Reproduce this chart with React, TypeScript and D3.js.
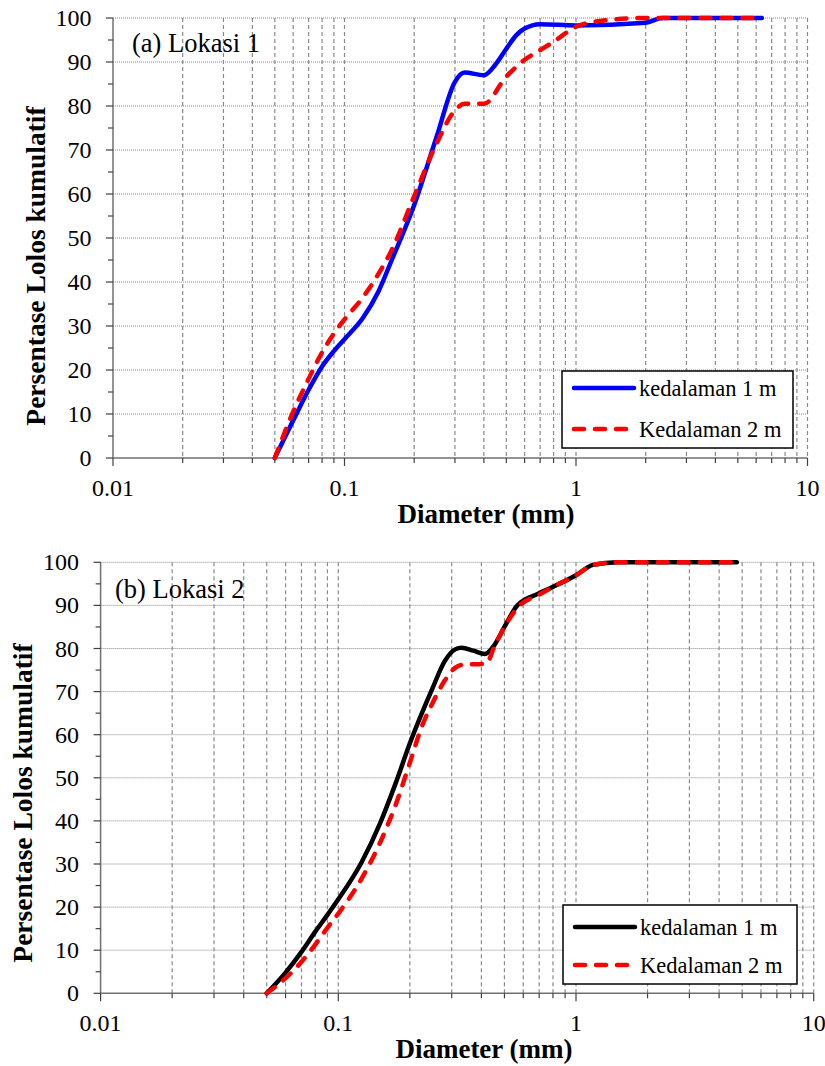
import React, { useRef, useEffect } from 'react';
import * as d3 from 'd3';

// Lokasi 1 - grain size (mm) and cumulative passing (%)
const lok1Depth1Size = [0.05, 0.06, 0.07, 0.08, 0.09, 0.1, 0.12, 0.14, 0.16, 0.2, 0.25, 0.3, 0.33, 0.4, 0.45, 0.5, 0.55, 0.6, 0.7, 1, 2, 2.36, 6.35];
const lok1Depth1Pass = [0, 8.5, 15.5, 20.8, 24.3, 27, 31.8, 37.8, 45, 57.5, 73, 85.5, 87.6, 87, 89.5, 93, 96, 97.6, 98.6, 98.3, 98.9, 100, 100];
const lok1Depth2Size = [0.05, 0.06, 0.07, 0.08, 0.09, 0.1, 0.12, 0.14, 0.16, 0.2, 0.25, 0.3, 0.33, 0.4, 0.5, 0.6, 0.7, 0.8, 1, 1.35, 2, 6.35];
const lok1Depth2Pass = [0, 10.5, 18, 24, 28.3, 31.5, 36.5, 41.8, 47.3, 59.5, 71.5, 79, 80.5, 80.5, 86.7, 90.5, 92.7, 94.6, 98, 99.5, 100, 100];

// Lokasi 2
const lok2Depth1Size = [0.05, 0.06, 0.07, 0.08, 0.09, 0.1, 0.125, 0.15, 0.175, 0.2, 0.25, 0.28, 0.31, 0.33, 0.37, 0.414, 0.45, 0.5, 0.566, 0.7, 0.8, 1, 1.18, 1.5, 4.75];
const lok2Depth1Pass = [0, 4.8, 9.6, 14.3, 18.2, 21.8, 30.3, 39.5, 49, 58, 71, 77, 79.8, 80.2, 79.5, 78.7, 80.5, 85, 90, 92.8, 94.3, 97, 99.4, 100, 100];
const lok2Depth2Size = [0.05, 0.06, 0.07, 0.08, 0.09, 0.1, 0.125, 0.15, 0.175, 0.2, 0.225, 0.25, 0.28, 0.31, 0.33, 0.42, 0.45, 0.5, 0.58, 0.7, 0.8, 1, 1.18, 1.5, 4.75];
const lok2Depth2Pass = [0, 3.5, 7.3, 11.3, 15.2, 18.5, 26.5, 35, 44, 53.5, 62, 67.5, 72.5, 75.5, 76.2, 76.5, 80, 85, 90, 92.5, 94.3, 97, 99.4, 100, 100];

const xTickValues = [0.01, 0.1, 1, 10];
const xTickLabels = ['0.01', '0.1', '1', '10'];
const yTickValues = [0, 10, 20, 30, 40, 50, 60, 70, 80, 90, 100];
const legendLabels = ['kedalaman 1 m', 'Kedalaman 2 m'];

const FONT = '"Liberation Serif", "Times New Roman", serif';

const panels = [
  {
    title: '(a) Lokasi 1',
    left: 113, right: 807.5, top: 18, bottom: 458,
    titleX: 132, titleY: 52,
    yTitleX: 45, yTitleCenter: 266,
    xTitleY: 523, xTitleCenter: 486,
    legend: { x: 562, y: 371, w: 231, h: 77, rows: [388, 429] },
    series: [
      { size: lok1Depth1Size, pass: lok1Depth1Pass, color: '#0000ff', dash: null },
      { size: lok1Depth2Size, pass: lok1Depth2Pass, color: '#ff0000', dash: '10 11' },
    ],
  },
  {
    title: '(b) Lokasi 2',
    left: 100.6, right: 813.7, top: 562.3, bottom: 993.3,
    titleX: 115, titleY: 598,
    yTitleX: 32, yTitleCenter: 803,
    xTitleY: 1058, xTitleCenter: 484,
    legend: { x: 563, y: 905, w: 234, h: 79, rows: [927, 965] },
    series: [
      { size: lok2Depth1Size, pass: lok2Depth1Pass, color: '#000000', dash: null },
      { size: lok2Depth2Size, pass: lok2Depth2Pass, color: '#ff0000', dash: '10 11' },
    ],
  },
];

const drawPanel = (svg, p) => {
  const g = svg.append('g');
  const x = d3.scaleLog().domain([0.01, 10]).range([p.left, p.right]);
  const y = d3.scaleLinear().domain([0, 100]).range([p.bottom, p.top]);

  // minor + major values for the log grid
  const gridVals = [];
  [0.01, 0.1, 1].forEach(dec => {
    for (let k = 1; k <= 9; k++) gridVals.push(+(dec * k).toPrecision(3));
  });
  gridVals.push(10);

  // horizontal grid (dotted)
  g.selectAll('.hgrid')
    .data(yTickValues.filter(v => v > 0))
    .enter()
    .append('line')
    .attr('x1', p.left).attr('x2', p.right)
    .attr('y1', d => y(d)).attr('y2', d => y(d))
    .attr('stroke', '#8a8a8a')
    .attr('stroke-width', 1)
    .attr('stroke-dasharray', '1 1');

  // vertical grid (dashed)
  g.selectAll('.vgrid')
    .data(gridVals.filter(v => v > 0.01))
    .enter()
    .append('line')
    .attr('x1', d => x(d)).attr('x2', d => x(d))
    .attr('y1', p.top).attr('y2', p.bottom)
    .attr('stroke', '#8a8a8a')
    .attr('stroke-width', 1.2)
    .attr('stroke-dasharray', '4 3');

  // axes
  g.append('line')
    .attr('x1', p.left).attr('x2', p.left)
    .attr('y1', p.top).attr('y2', p.bottom)
    .attr('stroke', '#707070').attr('stroke-width', 1.5);
  g.append('line')
    .attr('x1', p.left).attr('x2', p.right)
    .attr('y1', p.bottom).attr('y2', p.bottom)
    .attr('stroke', '#707070').attr('stroke-width', 1.5);

  // y ticks (major every 10, minor every 5)
  d3.range(0, 101, 5).forEach(v => {
    const major = v % 10 === 0;
    g.append('line')
      .attr('x1', p.left - (major ? 7 : 5)).attr('x2', p.left)
      .attr('y1', y(v)).attr('y2', y(v))
      .attr('stroke', '#404040').attr('stroke-width', 1.2);
  });
  g.selectAll('.ylab')
    .data(yTickValues)
    .enter()
    .append('text')
    .attr('x', p.left - 21.5)
    .attr('y', d => y(d) + 8)
    .attr('text-anchor', 'end')
    .style('font-family', FONT)
    .style('font-size', '24px')
    .text(d => d);

  // x ticks
  gridVals.forEach(v => {
    const major = xTickValues.includes(v);
    g.append('line')
      .attr('x1', x(v)).attr('x2', x(v))
      .attr('y1', p.bottom).attr('y2', p.bottom + (major ? 8 : 5))
      .attr('stroke', '#404040').attr('stroke-width', 1.2);
  });
  g.selectAll('.xlab')
    .data(xTickValues)
    .enter()
    .append('text')
    .attr('x', d => x(d))
    .attr('y', p.bottom + 38)
    .attr('text-anchor', 'middle')
    .style('font-family', FONT)
    .style('font-size', '24px')
    .text((d, i) => xTickLabels[i]);

  // axis titles
  g.append('text')
    .attr('x', p.xTitleCenter).attr('y', p.xTitleY)
    .attr('text-anchor', 'middle')
    .style('font-family', FONT).style('font-size', '27px').style('font-weight', 'bold')
    .text('Diameter (mm)');
  g.append('text')
    .attr('transform', `translate(${p.yTitleX},${p.yTitleCenter}) rotate(-90)`)
    .attr('text-anchor', 'middle')
    .style('font-family', FONT).style('font-size', '27.5px').style('font-weight', 'bold')
    .text('Persentase Lolos kumulatif');

  // panel label
  g.append('text')
    .attr('x', p.titleX).attr('y', p.titleY)
    .style('font-family', FONT).style('font-size', '26.5px')
    .text(p.title);

  // curves
  const line = d3.line()
    .x(d => x(d[0]))
    .y(d => y(d[1]))
    .curve(d3.curveMonotoneX);
  p.series.forEach(s => {
    const pts = s.size.map((v, i) => [v, s.pass[i]]);
    g.append('path')
      .datum(pts)
      .attr('d', line)
      .attr('fill', 'none')
      .attr('stroke', s.color)
      .attr('stroke-width', 4.5)
      .attr('stroke-linecap', 'round')
      .attr('stroke-linejoin', 'round')
      .attr('stroke-dasharray', s.dash);
  });

  // legend
  const L = p.legend;
  g.append('rect')
    .attr('x', L.x).attr('y', L.y).attr('width', L.w).attr('height', L.h)
    .attr('fill', '#fff').attr('stroke', '#000').attr('stroke-width', 1.5);
  p.series.forEach((s, i) => {
    g.append('line')
      .attr('x1', L.x + 12).attr('x2', L.x + 72)
      .attr('y1', L.rows[i]).attr('y2', L.rows[i])
      .attr('stroke', s.color).attr('stroke-width', 4.5)
      .attr('stroke-linecap', 'round')
      .attr('stroke-dasharray', s.dash);
    g.append('text')
      .attr('x', L.x + 77).attr('y', L.rows[i] + 8)
      .style('font-family', FONT).style('font-size', '22.5px')
      .text(legendLabels[i]);
  });
};

const App = () => {
  const svgRef = useRef(null);

  useEffect(() => {
    const svg = d3.select(svgRef.current);
    svg.selectAll('*').remove();
    panels.forEach(p => drawPanel(svg, p));
  }, []);

  return (
    <div style={{ position: 'absolute', left: 0, top: 0 }}>
      <svg ref={svgRef} width={825} height={1066} style={{ display: 'block', background: '#fff' }} />
    </div>
  );
};

export default App;
